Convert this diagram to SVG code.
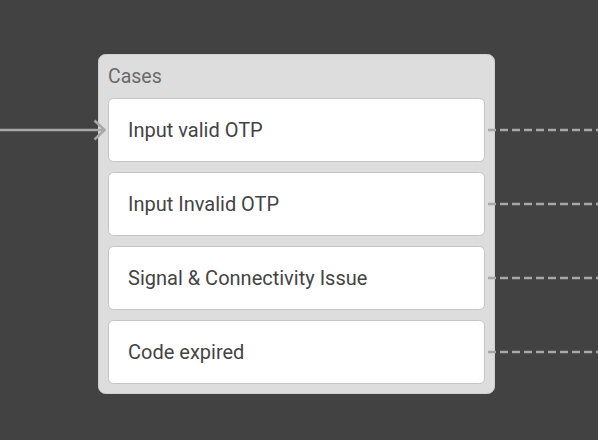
<svg xmlns="http://www.w3.org/2000/svg" width="598" height="440" viewBox="0 0 598 440">
<defs>
<style>
.case{fill:#ffffff;stroke:#c4c4c4;stroke-width:1}
.lbl{font-family:Roboto,"Liberation Sans",sans-serif;font-size:20px;fill:#444444}
.dash{stroke:#a8a8a8;stroke-width:2.5;stroke-dasharray:8 4;fill:none}
.conn{stroke:#a8a8a8;stroke-width:2.5;fill:none}
</style>
<marker id="chev" viewBox="0 0 14 22" refX="12.5" refY="11" markerWidth="14" markerHeight="22" markerUnits="userSpaceOnUse" orient="auto">
<path d="M2,1.5 L12,11 L2,20.5" fill="none" stroke="#a8a8a8" stroke-width="2.5"/>
</marker>
</defs>
<rect width="598" height="440" fill="#424242"/>
<g id="cases">
<rect x="98.5" y="54.5" width="396" height="339" rx="7" fill="#dddddd" stroke="#cfcfcf"/>
<text x="108" y="83" font-family="Roboto,'Liberation Sans',sans-serif" font-size="19.5" fill="#6a6a6a">Cases</text>
</g>
<g id="connectors">
<path class="conn" d="M0,130 H105" marker-end="url(#chev)"/>
<path class="dash" d="M488,130 H598"/>
<path class="dash" d="M488,204 H598"/>
<path class="dash" d="M488,278 H598"/>
<path class="dash" d="M488,352 H598"/>
</g>
<g id="case1"><rect class="case" x="108.5" y="98.5" width="376" height="63" rx="5"/><text class="lbl" x="128" y="137">Input valid OTP</text></g>
<g id="case2"><rect class="case" x="108.5" y="172.5" width="376" height="63" rx="5"/><text class="lbl" x="128" y="211">Input Invalid OTP</text></g>
<g id="case3"><rect class="case" x="108.5" y="246.5" width="376" height="63" rx="5"/><text class="lbl" x="128" y="285">Signal &amp; Connectivity Issue</text></g>
<g id="case4"><rect class="case" x="108.5" y="320.5" width="376" height="63" rx="5"/><text class="lbl" x="128" y="359">Code expired</text></g>
</svg>
